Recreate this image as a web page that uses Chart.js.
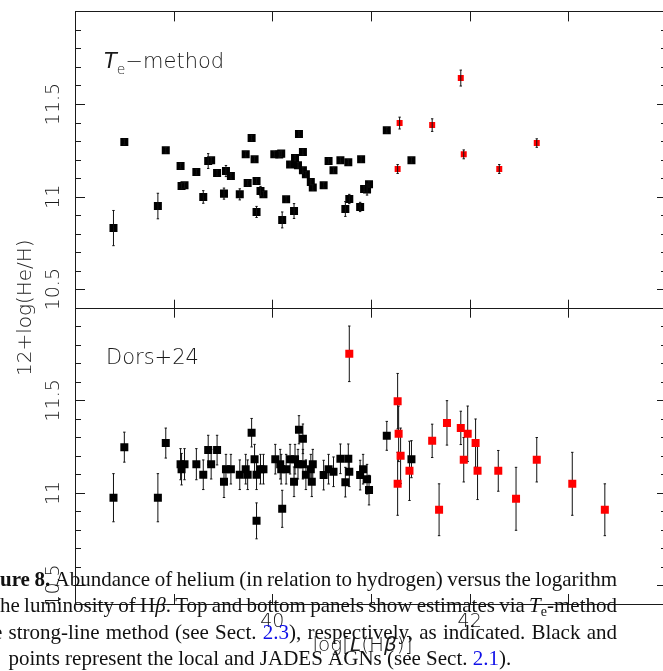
<!DOCTYPE html>
<html>
<head>
<meta charset="utf-8">
<script src="https://cdn.jsdelivr.net/npm/chart.js@4.4.1/dist/chart.umd.min.js"></script>
<style>
html,body{margin:0;padding:0;overflow:hidden;background:#fff;width:663px;height:671px}
#wrap{position:absolute;left:0;top:0;width:663px;height:671px;overflow:hidden;background:#fff}
canvas{position:absolute;left:0;top:0}
</style>
</head>
<body>
<div id="wrap"><canvas id="c" width="690" height="671"></canvas></div>
<script>
// ---------- data ----------
// Top panel (Te-method), local AGNs (black)
const topBlackX = [38.39,38.50,38.84,38.92,39.07,39.08,39.11,39.23,39.30,39.35,39.38,39.44,39.51,39.53,39.58,39.67,39.73,39.75,39.79,39.82,39.84,39.84,39.88,39.91,40.02,40.07,40.09,40.10,40.14,40.18,40.22,40.23,40.26,40.27,40.31,40.31,40.34,40.39,40.41,40.52,40.57,40.62,40.69,40.77,40.90,40.78,40.74,40.89,40.98,40.96,40.93,41.16,41.41];
const topBlackY = [10.830,11.295,10.949,11.250,11.165,11.057,11.061,11.133,10.998,11.192,11.196,11.127,11.016,11.138,11.111,11.012,11.228,11.073,11.316,11.201,11.084,10.917,11.030,11.012,11.228,11.227,11.232,10.874,10.985,11.173,10.922,11.208,11.169,11.338,11.241,11.142,11.120,11.079,11.049,11.061,11.192,11.142,11.196,11.185,11.201,10.987,10.933,10.944,11.066,11.038,11.041,11.358,11.196];
const topBlackErr = [0.095,0.015,0.069,0.015,0.015,0.015,0.015,0.015,0.034,0.040,0.015,0.015,0.030,0.030,0.015,0.030,0.015,0.015,0.015,0.015,0.015,0.030,0.025,0.015,0.015,0.015,0.015,0.043,0.015,0.015,0.040,0.015,0.015,0.015,0.015,0.015,0.015,0.015,0.015,0.015,0.015,0.015,0.015,0.015,0.015,0.025,0.040,0.025,0.015,0.030,0.015,0.015,0.015];
// Top panel, JADES AGNs (red)
const topRedX = [41.27,41.29,41.62,41.91,41.94,42.30,42.68];
const topRedY = [11.149,11.397,11.386,11.640,11.228,11.149,11.289];
const topRedErr = [0.024,0.032,0.034,0.043,0.024,0.024,0.023];
// Bottom panel (Dors+24), local AGNs (black)
const botBlackX = [38.39,38.50,38.84,38.92,39.07,39.08,39.11,39.23,39.30,39.35,39.38,39.44,39.51,39.53,39.58,39.67,39.73,39.75,39.79,39.82,39.84,39.84,39.88,39.91,40.03,40.08,40.09,40.10,40.14,40.18,40.22,40.23,40.26,40.27,40.31,40.31,40.34,40.39,40.40,40.41,40.52,40.57,40.62,40.69,40.77,40.74,40.78,40.89,40.92,40.96,40.98,41.16,41.41];
const botBlackY = [10.974,11.247,10.974,11.269,11.155,11.128,11.155,11.155,11.098,11.231,11.155,11.231,11.060,11.128,11.128,11.098,11.128,11.098,11.325,11.182,11.098,10.849,11.128,11.128,11.182,11.155,11.128,10.914,11.128,11.182,11.060,11.182,11.155,11.341,11.292,11.155,11.098,11.128,11.060,11.155,11.096,11.128,11.114,11.184,11.184,11.058,11.114,11.096,11.128,11.074,11.015,11.308,11.182];
const botBlackErr = [0.13,0.081,0.13,0.081,0.084,0.085,0.084,0.084,0.08,0.08,0.08,0.08,0.085,0.08,0.08,0.08,0.08,0.08,0.077,0.08,0.08,0.097,0.08,0.08,0.08,0.08,0.08,0.10,0.08,0.08,0.08,0.08,0.08,0.076,0.08,0.08,0.08,0.08,0.08,0.08,0.08,0.08,0.08,0.08,0.08,0.08,0.08,0.08,0.08,0.08,0.08,0.078,0.10];
// Bottom panel, JADES AGNs (red)
const botRedX = [40.78,41.27,41.28,41.30,41.27,41.39,41.69,41.62,41.77,41.91,41.98,41.94,42.06,42.08,42.29,42.47,42.68,43.04,43.37];
const botRedY = [11.751,11.495,11.319,11.200,11.049,11.119,10.909,11.281,11.378,11.351,11.319,11.179,11.269,11.119,11.119,10.968,11.179,11.049,10.909];
const botRedErr = [0.15,0.15,0.15,0.15,0.17,0.16,0.14,0.09,0.12,0.09,0.15,0.12,0.13,0.155,0.11,0.17,0.12,0.17,0.14];

// axis ranges and tick labels
const xRange = [38, 44];
const yRange = [10.4, 12.0];
const xTickLabels = [40, 42];
const yTickLabels = [10.5, 11, 11.5];
const yTitle = '12+log(He/H)';
const panelTop = 'Dors+24';

const SANS = '"DejaVu Sans", "Liberation Sans", sans-serif';
const SERIF = '"Liberation Serif", "DejaVu Serif", serif';
const LIGHT = 200;
const INK = '#1a1a1a';

function pts(xs, ys){ return xs.map((x,i)=>({x:x, y:ys[i]})); }

// ---------- plugins ----------
function drawErr(chart, onTop){
  const ctx = chart.ctx, xs = chart.scales.x;
  chart.data.datasets.forEach(ds=>{
    if (!!ds.errOnTop !== onTop) return;
    const ys = chart.scales[ds.yAxisID];
    ctx.save();
    ctx.strokeStyle = '#111';
    ctx.lineWidth = 1;
    ds.data.forEach((p,j)=>{
      const e = ds.errors[j];
      const x = xs.getPixelForValue(p.x);
      const y1 = ys.getPixelForValue(p.y - e), y2 = ys.getPixelForValue(p.y + e);
      ctx.beginPath();
      ctx.moveTo(x, y1); ctx.lineTo(x, y2);
      ctx.moveTo(x-1.2, y1); ctx.lineTo(x+1.2, y1);
      ctx.moveTo(x-1.2, y2); ctx.lineTo(x+1.2, y2);
      ctx.stroke();
    });
    ctx.restore();
  });
}
const errorBars = {
  id: 'errorBars',
  beforeDatasetsDraw(chart){ drawErr(chart, false); },
  afterDatasetsDraw(chart){ drawErr(chart, true); }
};

const frame = {
  id: 'frame',
  afterDatasetsDraw(chart){
    const ctx = chart.ctx, a = chart.chartArea;
    const xs = chart.scales.x, yt = chart.scales.yTop, yb = chart.scales.yBot;
    const al = v => Math.round(v) + 0.5;
    ctx.save();
    ctx.strokeStyle = INK; ctx.lineWidth = 1;
    ctx.beginPath();
    ctx.moveTo(a.left, al(a.top)); ctx.lineTo(a.right, al(a.top));
    ctx.moveTo(a.left, al(yt.bottom)); ctx.lineTo(a.right, al(yt.bottom));
    ctx.moveTo(al(a.right), a.top); ctx.lineTo(al(a.right), a.bottom);
    ctx.stroke();
    // y ticks (inward, both sides)
    [yt, yb].forEach(s=>{
      s.ticks.forEach(t=>{
        if (t.value <= yRange[0] + 1e-6 || t.value >= yRange[1] - 1e-6) return;
        const major = yTickLabels.some(v=>Math.abs(v - t.value) < 1e-6);
        const len = major ? 10 : 6;
        const y = al(s.getPixelForValue(t.value));
        ctx.beginPath();
        ctx.moveTo(a.left, y); ctx.lineTo(a.left + len, y);
        ctx.moveTo(a.right, y); ctx.lineTo(a.right - len, y);
        ctx.stroke();
      });
    });
    // x ticks at every frame line
    xs.ticks.forEach(t=>{
      if (t.value <= xRange[0] || t.value >= xRange[1]) return;
      const x = al(xs.getPixelForValue(t.value));
      ctx.beginPath();
      ctx.moveTo(x, a.top); ctx.lineTo(x, a.top + 10);
      ctx.moveTo(x, yt.bottom - 8); ctx.lineTo(x, yt.bottom + 10);
      ctx.moveTo(x, a.bottom); ctx.lineTo(x, a.bottom - 10);
      ctx.stroke();
    });
    ctx.restore();
  }
};

function runs(ctx, list, x, y){
  list.forEach(r=>{
    ctx.font = r[1];
    ctx.fillText(r[0], x, y + (r[2]||0));
    x += ctx.measureText(r[0]).width;
  });
  return x;
}
function runsWidth(ctx, list){
  let w = 0;
  list.forEach(r=>{ ctx.font = r[1]; w += ctx.measureText(r[0]).width; });
  return w;
}

// justified caption line
function justify(ctx, segs, x0, x1, y){
  let nat = 0, nsp = 0;
  segs.forEach(s=>{
    ctx.font = s.f;
    const parts = s.t.split(' ');
    parts.forEach((p,k)=>{ nat += ctx.measureText(p).width; if (k>0){ nat += ctx.measureText(' ').width; nsp++; } });
  });
  const extra = nsp ? (x1 - x0 - nat) / nsp : 0;
  let x = x0;
  segs.forEach(s=>{
    ctx.font = s.f;
    ctx.fillStyle = s.c || '#111';
    const parts = s.t.split(' ');
    parts.forEach((p,k)=>{
      if (k>0) x += ctx.measureText(' ').width + extra;
      if (p) ctx.fillText(p, x, y + (s.dy||0));
      x += ctx.measureText(p).width;
    });
  });
  return extra;
}

const texts = {
  id: 'texts',
  afterDraw(chart){
    const ctx = chart.ctx;
    const yt = chart.scales.yTop;
    ctx.save();
    ctx.fillStyle = INK;
    ctx.textBaseline = 'alphabetic';
    ctx.textAlign = 'left';
    const F = (sz, st) => (st||'') + ' ' + LIGHT + ' ' + sz + 'px ' + SANS;
    // panel labels
    runs(ctx, [['T', 'italic ' + LIGHT + ' 21px ' + SANS, 0], ['e', F(14), 6], ['\u2212method', F(21), 0]], 104, 68);
    ctx.font = F(21);
    ctx.fillText(panelTop, 106, 364);
    // y title (rotated)
    ctx.save();
    ctx.translate(31, yt.bottom);
    ctx.rotate(-Math.PI/2);
    ctx.textAlign = 'center';
    ctx.font = F(20);
    ctx.fillText(yTitle, 0, 0);
    ctx.restore();
    // x title with italics
    const xt = [['log[', F(20)], ['L', 'italic ' + LIGHT + ' 20px ' + SANS], ['(H', F(20)], ['\u03B2', 'italic ' + LIGHT + ' 20px ' + SANS], [')]', F(20)]];
    const w = runsWidth(ctx, xt);
    runs(ctx, xt, 362.5 - w/2, 651);

    // caption (overlaid paper text)
    const R = '21px ' + SERIF, B = 'bold 21px ' + SERIF, I = 'italic 21px ' + SERIF, S = '14px ' + SERIF;
    const BLUE = '#1010e8';
    ctx.fillStyle = '#111';
    // line 1
    ctx.font = B; ctx.textAlign = 'right'; ctx.fillText('Fig', 0, 586); ctx.textAlign = 'left';
    justify(ctx, [{t:'ure 8.', f:B}, {t:' Abundance of helium (in relation to hydrogen) versus the logarithm', f:R}], 0, 617, 586);
    // line 2
    ctx.font = R; ctx.fillStyle = '#111'; ctx.textAlign = 'right'; ctx.fillText('t', 0, 612); ctx.textAlign = 'left';
    justify(ctx, [{t:'he luminosity of H', f:R}, {t:'\u03B2', f:I}, {t:'. Top and bottom panels show estimates via ', f:R}, {t:'T', f:I}, {t:'e', f:S, dy:4}, {t:'-method', f:R}], 0, 617, 612);
    // line 3
    const ex = justify(ctx, [{t:'strong-line method (see Sect. ', f:R}, {t:'2.3', f:R, c:BLUE}, {t:'), respectively, as indicated. Black and', f:R}], 8.5, 617, 639);
    ctx.font = R; ctx.fillStyle = '#111'; ctx.textAlign = 'right';
    ctx.fillText('the', 8.5 - ctx.measureText(' ').width - ex, 639);
    ctx.textAlign = 'left';
    // line 4 (not justified)
    let x = 8.5;
    [['points represent the local and JADES AGNs (see Sect. ', '#111'], ['2.1', BLUE], [').', '#111']].forEach(r=>{
      ctx.font = R; ctx.fillStyle = r[1]; ctx.fillText(r[0], x, 665); x += ctx.measureText(r[0]).width;
    });
    ctx.restore();
  }
};

// ---------- chart ----------
const yCommon = () => ({
  type: 'linear', position: 'left', stack: 'panels', stackWeight: 1,
  min: yRange[0], max: yRange[1],
  grid: { display: false, drawTicks: false },
  border: { display: true, color: INK, width: 1 },
  ticks: {
    stepSize: 0.1, autoSkip: false, maxTicksLimit: 100,
    minRotation: 90, maxRotation: 90, crossAlign: 'center', padding: 0,
    color: INK, font: { family: SANS, size: 19, weight: LIGHT },
    callback: (v) => { const m = yTickLabels.find(t => Math.abs(t - v) < 1e-6); return m === undefined ? '' : String(m); }
  },
  afterFit: (s) => { s.width = 75; }
});

new Chart(document.getElementById('c'), {
  type: 'scatter',
  data: {
    datasets: [
      { data: pts(botBlackX, botBlackY), errors: botBlackErr, errOnTop: false, yAxisID: 'yBot',
        pointStyle: 'rect', pointRadius: 5.66, backgroundColor: '#000', borderWidth: 0 },
      { data: pts(botRedX, botRedY), errors: botRedErr, errOnTop: false, yAxisID: 'yBot',
        pointStyle: 'rect', pointRadius: 5.66, backgroundColor: '#ff0000', borderWidth: 0 },
      { data: pts(topBlackX, topBlackY), errors: topBlackErr, errOnTop: true, yAxisID: 'yTop',
        pointStyle: 'rect', pointRadius: 5.66, backgroundColor: '#000', borderWidth: 0 },
      { data: pts(topRedX, topRedY), errors: topRedErr, errOnTop: true, yAxisID: 'yTop',
        pointStyle: 'rect', pointRadius: 4.24, backgroundColor: '#ff0000', borderWidth: 0 }
    ]
  },
  options: {
    responsive: false, animation: false, events: [],
    layout: { padding: { left: 0, top: 11, right: 23, bottom: 0 } },
    plugins: { legend: { display: false }, tooltip: { enabled: false } },
    scales: {
      x: {
        type: 'linear', position: 'bottom', min: xRange[0], max: xRange[1],
        grid: { display: false, drawTicks: false },
        border: { display: true, color: INK, width: 1 },
        ticks: { stepSize: 1, autoSkip: false, maxRotation: 0, padding: 7, color: INK,
          font: { family: SANS, size: 19, weight: LIGHT },
          callback: (v) => xTickLabels.includes(v) ? String(v) : '' },
        afterFit: (s) => { s.height = 67; }
      },
      yBot: yCommon(),
      yTop: yCommon()
    }
  },
  plugins: [errorBars, frame, texts]
});
</script>
</body>
</html>
